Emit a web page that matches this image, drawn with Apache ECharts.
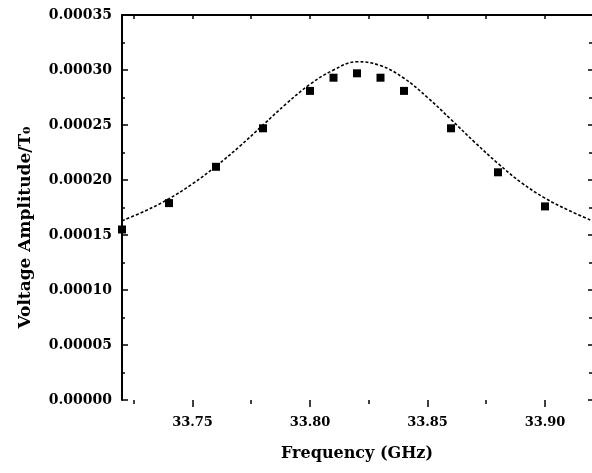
<!DOCTYPE html>
<html>
<head>
<meta charset="utf-8">
<script src="https://cdn.jsdelivr.net/npm/echarts@6/dist/echarts.min.js"></script>
<style>
  html, body { margin: 0; padding: 0; background: #fff; }
  #chart { width: 592px; height: 473px; }
</style>
</head>
<body>
<div id="chart"></div>
<script>
// Measured resonance: frequency (GHz) and voltage amplitude
const measFreq = [33.72, 33.74, 33.76, 33.78, 33.80, 33.81, 33.82, 33.83, 33.84, 33.86, 33.88, 33.90];
const measAmp  = [0.000155, 0.000179, 0.000212, 0.000247, 0.000281, 0.000293, 0.000297, 0.000293, 0.000281, 0.000247, 0.000207, 0.000176];

// Fitted curve, sampled every 10 MHz
const fitFreq = [33.72, 33.73, 33.74, 33.75, 33.76, 33.77, 33.78, 33.79, 33.80, 33.81, 33.82,
                 33.83, 33.84, 33.85, 33.86, 33.87, 33.88, 33.89, 33.90, 33.91, 33.92];
const fitAmp  = [0.0001630, 0.0001720, 0.0001830, 0.0001965, 0.0002125, 0.0002305, 0.0002500,
                 0.0002695, 0.0002870, 0.0003000, 0.0003075, 0.0003040, 0.0002925, 0.0002750,
                 0.0002550, 0.0002345, 0.0002150, 0.0001975, 0.0001835, 0.0001725, 0.0001630];

// Axis ticks
const xMajorTicks = [33.75, 33.80, 33.85, 33.90];
const xMinorTicks = [33.725, 33.775, 33.825, 33.875];

const FONT = 'DejaVu Serif';
const pairs = (xs, ys) => xs.map((x, i) => [x, ys[i]]);

const chart = echarts.init(document.getElementById('chart'));
const xBase = { type: 'value', min: 33.72, max: 33.92, splitLine: { show: false } };
const yBase = { type: 'value', min: 0, max: 0.00035, interval: 0.00005, splitLine: { show: false } };

chart.setOption({
  backgroundColor: '#fff',
  animation: false,
  grid: { left: 122, right: 0, top: 15, bottom: 73 },
  xAxis: [
    Object.assign({}, xBase, {
      position: 'bottom',
      name: 'Frequency (GHz)',
      nameLocation: 'middle',
      nameGap: 46,
      nameTextStyle: { fontFamily: FONT, fontWeight: 'bold', fontSize: 16, color: '#000' },
      axisLine: { show: false },
      axisTick: { show: true, inside: false, length: 7, customValues: xMajorTicks, lineStyle: { color: '#000', width: 1.5 } },
      axisLabel: {
        customValues: xMajorTicks, margin: 16, color: '#000',
        fontFamily: FONT, fontWeight: 'bold', fontSize: 13,
        formatter: v => v.toFixed(2)
      }
    }),
    Object.assign({}, xBase, {
      position: 'bottom',
      axisLine: { show: false },
      axisTick: { show: true, inside: false, length: 4, customValues: xMinorTicks, lineStyle: { color: '#000', width: 1.5 } },
      axisLabel: { show: false }
    }),
    Object.assign({}, xBase, {
      position: 'top',
      axisLine: { show: true, lineStyle: { color: '#000', width: 2 } },
      axisTick: { show: true, inside: true, length: 4, customValues: xMajorTicks.concat(xMinorTicks), lineStyle: { color: '#000', width: 1.5 } },
      axisLabel: { show: false }
    })
  ],
  yAxis: [
    Object.assign({}, yBase, {
      position: 'left',
      name: 'Voltage Amplitude/T\u2080',
      nameLocation: 'middle',
      nameGap: 88,
      nameTextStyle: { fontFamily: FONT, fontWeight: 'bold', fontSize: 17, color: '#000', padding: [0, 40, 0, 0] },
      axisLine: { show: true, lineStyle: { color: '#000', width: 2 } },
      axisTick: { show: true, inside: true, length: 6, lineStyle: { color: '#000', width: 1.5 } },
      minorTick: { show: true, splitNumber: 2, length: 3, lineStyle: { color: '#000', width: 1.5 } },
      axisLabel: {
        margin: 10, color: '#000', fontFamily: FONT, fontWeight: 'bold', fontSize: 14,
        formatter: v => v.toFixed(5)
      }
    }),
    Object.assign({}, yBase, {
      position: 'right',
      axisLine: { show: false },
      axisTick: { show: true, inside: true, length: 4, lineStyle: { color: '#000', width: 1.5 } },
      minorTick: { show: true, splitNumber: 2, length: 3, lineStyle: { color: '#000', width: 1.5 } },
      axisLabel: { show: false }
    })
  ],
  series: [
    {
      name: 'fit',
      type: 'line',
      xAxisIndex: 0,
      yAxisIndex: 0,
      data: pairs(fitFreq, fitAmp),
      smooth: 0.4,
      showSymbol: false,
      lineStyle: { color: '#000', width: 1.6, type: [3, 2] },
      z: 2
    },
    {
      name: 'measured',
      type: 'scatter',
      xAxisIndex: 0,
      yAxisIndex: 0,
      data: pairs(measFreq, measAmp),
      symbol: 'rect',
      symbolSize: 8,
      itemStyle: { color: '#000', opacity: 1 },
      z: 3
    }
  ]
});
</script>
</body>
</html>
